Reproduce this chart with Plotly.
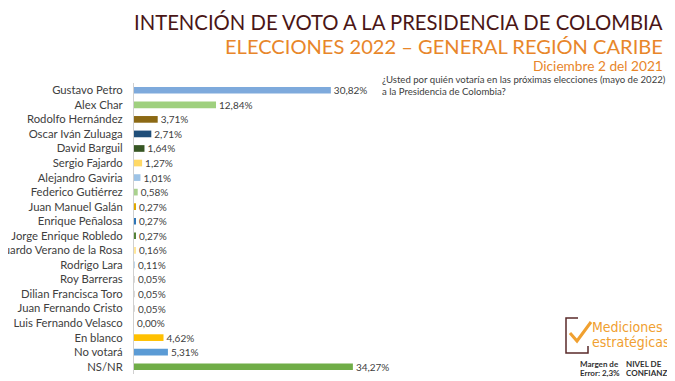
import plotly.graph_objects as go

candidatos = ["Gustavo Petro", "Alex Char", "Rodolfo Hernández", "Oscar Iván Zuluaga",
              "David Barguil", "Sergio Fajardo", "Alejandro Gaviria", "Federico Gutiérrez",
              "Juan Manuel Galán", "Enrique Peñalosa", "Jorge Enrique Robledo",
              "Eduardo Verano de la Rosa", "Rodrigo Lara", "Roy Barreras",
              "Dilian Francisca Toro", "Juan Fernando Cristo", "Luis Fernando Velasco",
              "En blanco", "No votará", "NS/NR"]
valores = [30.82, 12.84, 3.71, 2.71, 1.64, 1.27, 1.01, 0.58, 0.27, 0.27, 0.27,
           0.16, 0.11, 0.05, 0.05, 0.05, 0.00, 4.62, 5.31, 34.27]
etiquetas = ["30,82%", "12,84%", "3,71%", "2,71%", "1,64%", "1,27%", "1,01%", "0,58%",
             "0,27%", "0,27%", "0,27%", "0,16%", "0,11%", "0,05%", "0,05%", "0,05%",
             "0,00%", "4,62%", "5,31%", "34,27%"]
colores = ["#7eaadc", "#9fd07e", "#8c6914", "#1f4e79", "#375623", "#ffd966", "#9dc3e6",
           "#a9d18e", "#e0a800", "#2e75b6", "#548235", "#ffe699", "#bdd7ee", "#d9d9d9",
           "#d9d9d9", "#d9d9d9", "#d9d9d9", "#ffc000", "#5b9bd5", "#70ad47"]

FONT = "Lato, Open Sans, sans-serif"
OFF = 8  # page body margin
W, H = 675 - OFF, 381 - OFF
L, R, T, B = 134 - OFF, 0, 83 - OFF, 7
PW, PH = W - L - R, H - T - B


def px(x):
    return (x - OFF - L) / PW


def py(y):
    return (H - B - (y - OFF)) / PH


fig = go.Figure(go.Bar(
    y=candidatos, x=valores, orientation="h",
    marker=dict(color=colores, line=dict(width=0)),
    width=0.46,
    text=etiquetas, textposition="outside", cliponaxis=False, constraintext="none",
    textfont=dict(family=FONT, size=10, color="#404040"),
))

fig.update_layout(
    width=W, height=H,
    margin=dict(l=L, r=R, t=T, b=B, autoexpand=False),
    paper_bgcolor="white", plot_bgcolor="white",
    showlegend=False,
    xaxis=dict(range=[0, 84.7], visible=False, fixedrange=True),
    yaxis=dict(autorange="reversed", showline=True, linecolor="#d0d0d0", linewidth=1,
               showgrid=False, ticks="", ticklabelstandoff=8,
               tickfont=dict(family=FONT, size=11.3, color="#404040"), automargin=False),
    font=dict(family=FONT),
)

ann = [
    ("INTENCIÓN DE VOTO A LA PRESIDENCIA DE COLOMBIA", 665, 22, 20.3, "#4a1616"),
    ("ELECCIONES 2022 – GENERAL REGIÓN CARIBE", 665, 46, 20.1, "#e8862a"),
    ("Diciembre 2 del 2021", 665, 65, 13.7, "#e8862a"),
]
for t, x, y, s, c in ann:
    fig.add_annotation(xref="paper", yref="paper", x=px(x), y=py(y),
                       xanchor="right", yanchor="middle", text=t, showarrow=False,
                       font=dict(family=FONT, size=s, color=c))

fig.add_annotation(xref="paper", yref="paper", x=px(380), y=py(85),
                   xanchor="left", yanchor="middle", align="left", showarrow=False,
                   text="¿Usted por quién votaría en las próximas elecciones (mayo de 2022)<br>a la Presidencia de Colombia?",
                   font=dict(family=FONT, size=9.6, color="#404040"))

# logo
fig.add_shape(type="path", xref="paper", yref="paper",
              path=f"M {px(578)} {py(318)} L {px(566)} {py(318)} L {px(566)} {py(353)} L {px(588)} {py(353)} L {px(588)} {py(346)}",
              line=dict(color="#5a2a2a", width=1.5))
fig.add_shape(type="path", xref="paper", yref="paper",
              path=f"M {px(570)} {py(333)} L {px(577)} {py(341)} L {px(591)} {py(322)}",
              line=dict(color="#f0a030", width=3))
fig.add_annotation(xref="paper", yref="paper", x=px(590), y=py(327),
                   xanchor="left", yanchor="middle", text="Mediciones", showarrow=False,
                   font=dict(family="DejaVu Sans Condensed, DejaVu Sans", size=14, color="#f0a030"))
fig.add_annotation(xref="paper", yref="paper", x=px(590), y=py(342),
                   xanchor="left", yanchor="middle", text="estratégicas", showarrow=False,
                   font=dict(family="DejaVu Sans Condensed, DejaVu Sans", size=14, color="#f0a030"))
pie = [("Margen de", 579, 364), ("Error: 2,3%", 579, 373),
       ("NIVEL DE", 625, 364), ("CONFIANZA: 95%", 625, 373)]
for t, x, y in pie:
    fig.add_annotation(xref="paper", yref="paper", x=px(x), y=py(y),
                       xanchor="left", yanchor="middle", align="left", showarrow=False,
                       text=f"<b>{t}</b>", borderpad=0,
                       font=dict(family=FONT, size=8, color="#303030"))

fig.write_html("out.html")
